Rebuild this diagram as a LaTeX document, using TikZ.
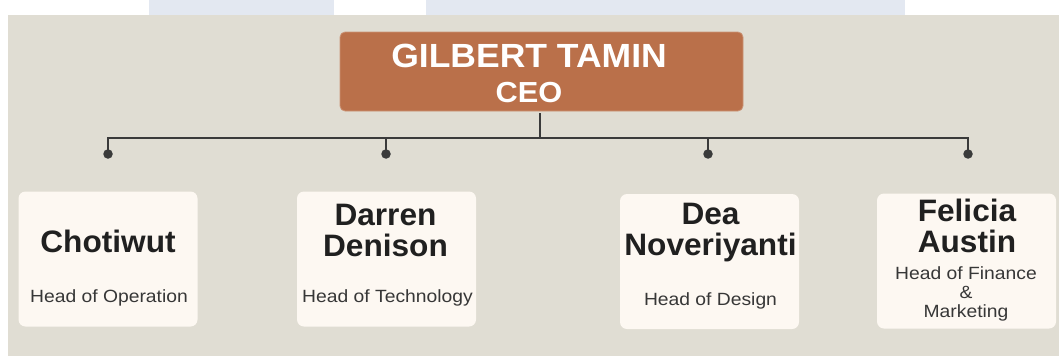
\documentclass[tikz,border=0pt]{standalone}
\usepackage{fontspec}
\setmainfont{Liberation Sans}[FakeStretch=1.02]
\newfontfamily\jobfont{Liberation Sans}[FakeStretch=1.09]
\newfontfamily\ceofont{Liberation Sans}[FakeStretch=1.06]
\usetikzlibrary{positioning,calc}

\definecolor{paper}{RGB}{224,221,211}
\definecolor{wmblue}{RGB}{227,232,241}
\definecolor{rust}{RGB}{186,112,74}
\definecolor{cream}{RGB}{253,248,242}
\definecolor{ink}{RGB}{58,58,58}
\definecolor{nametext}{RGB}{32,32,32}
\definecolor{jobtext}{RGB}{55,55,55}

\begin{document}
\begin{tikzpicture}[x=1pt, y=-1pt,
    ceo/.style={rectangle, rounded corners=5pt, fill=rust, draw=rust!75!white, line width=0.8pt, minimum width=403pt, minimum height=79pt, inner sep=0pt},
    ceotext/.style={text=white, font=\ceofont\fontsize{33.5}{35}\selectfont\bfseries, align=center, inner sep=0pt},
    staff/.style={rectangle, rounded corners=7pt, fill=cream, minimum width=179pt, minimum height=135pt, inner sep=0pt},
    who/.style={text=nametext, font=\fontsize{31}{30.7}\selectfont\bfseries, align=center, inner sep=0pt},
    job/.style={text=jobtext, font=\jobfont\fontsize{17.7}{19.2}\selectfont, align=center, inner sep=0pt},
    dot/.style={circle, fill=ink, inner sep=0pt, minimum size=9.5pt},
    wire/.style={draw=ink, line width=2.3pt}]
    % Fundo
    \useasboundingbox (0,0) rectangle (1059,356);
    \fill[white] (0,0) rectangle (1059,356);
    \fill[wmblue] (149,0) rectangle (334,15);
    \fill[wmblue] (426,0) rectangle (905,15);
    \fill[paper] (8,15) rectangle (1059,356);
    % Nodes
    \node[ceo] (G) at (541.5,71.5) {};
    \node[ceotext] (Gt) at (529,73.5) {GILBERT TAMIN\\{\fontsize{29}{35}\selectfont CEO}};
    \node[staff] (A) at (108,259) {};
    \node[staff] (B) at (386.5,259) {};
    \node[staff] (C) at (709.5,261.5) {};
    \node[staff] (D) at (966.5,261) {};
    \node[who, anchor=base] (An) at (108,252.7) {Chotiwut};
    \node[who, anchor=north] (Bn) at (385.5,203.8) {Darren\\Denison};
    \node[who, anchor=north] (Cn) at (710.5,202.8) {Dea\\Noveriyanti};
    \node[who, anchor=north] (Dn) at (967,199.1) {Felicia\\Austin};
    \node[job, anchor=base] (Aj) at (109,302) {Head of Operation};
    \node[job, anchor=base] (Bj) at (387.5,302.7) {Head of Technology};
    \node[job, anchor=base] (Cj) at (710.5,305) {Head of Design};
    \node[job, anchor=north] (Dj) at (966,266.5) {Head of Finance\\\&\\Marketing};
    \node[dot] (d1) at (108,154) {};
    \node[dot] (d2) at (386,154) {};
    \node[dot] (d3) at (708,154) {};
    \node[dot] (d4) at (968,154) {};
    \coordinate (hub) at (540,138);
    % Arestas
    \draw[wire, shorten <=2pt] (G.south -| hub) -- (hub);
    \draw[wire] (d1.center) |- (hub) -| (d4.center);
    \draw[wire] (d2.center) -- (d2 |- hub);
    \draw[wire] (d3.center) -- (d3 |- hub);
\end{tikzpicture}
\end{document}
